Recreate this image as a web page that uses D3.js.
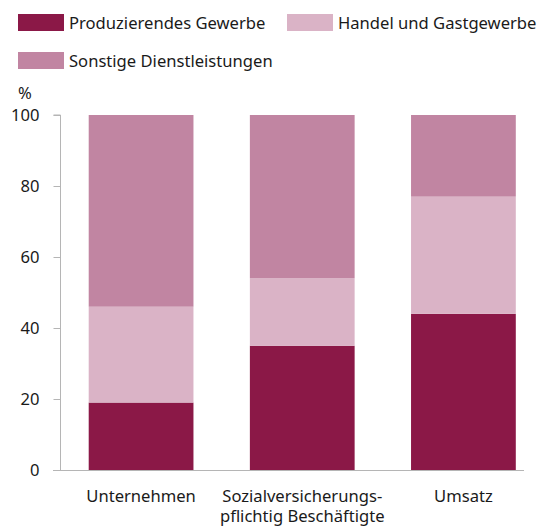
<!DOCTYPE html>
<html>
<head>
<meta charset="utf-8">
<script src="https://cdn.jsdelivr.net/npm/d3@7"></script>
<style>
  body { margin: 0; background: #fff; }
  text { font-family: "Noto Sans", "Open Sans", sans-serif; fill: #1a1a1a; }
</style>
</head>
<body>
<div class="chart"></div>
<script>
(function() {
  var categories = [["Unternehmen"], ["Sozialversicherungs-", "pflichtig Beschäftigte"], ["Umsatz"]];
  var seriesNames = ["Produzierendes Gewerbe", "Handel und Gastgewerbe", "Sonstige Dienstleistungen"];
  var produzierend = [19, 35, 44];
  var handel = [27, 19, 33];
  var sonstige = [54, 46, 23];
  var yTicks = [0, 20, 40, 60, 80, 100];
  var colors = ["#8b1847", "#dab3c6", "#c185a2"];

  var width = 542, height = 528, fs = "16.6px";
  var svg = d3.select(".chart").append("svg")
    .attr("width", width)
    .attr("height", height);

  var rows = categories.map(function(c, i) {
    return { key: i, label: c, a: produzierend[i], b: handel[i], c: sonstige[i] };
  });
  var stack = d3.stack().keys(["a", "b", "c"]);
  var series = stack(rows);

  var x = d3.scaleBand()
    .domain(rows.map(function(d) { return d.key; }))
    .range([60.5, 544])
    .paddingInner(0.35)
    .paddingOuter(0.175);
  var y = d3.scaleLinear().domain([0, 100]).range([470, 115]);

  // bars
  svg.append("g").selectAll("g")
    .data(series)
    .enter().append("g")
      .attr("fill", function(d, i) { return colors[i]; })
    .selectAll("rect")
      .data(function(d) { return d; })
    .enter().append("rect")
      .attr("x", function(d) { return x(d.data.key); })
      .attr("width", x.bandwidth())
      .attr("y", function(d) { return y(d[1]); })
      .attr("height", function(d) { return y(d[0]) - y(d[1]); });

  // y axis
  var yAxis = svg.append("g")
    .attr("transform", "translate(60.5,0)")
    .call(d3.axisLeft(y).tickValues(yTicks).tickSize(7).tickPadding(14));
  yAxis.select(".domain").attr("stroke", "#b5b5b5").attr("d", "M-7," + y(100) + "H0V" + y(0));
  yAxis.selectAll(".tick line").attr("stroke", "#b5b5b5");
  yAxis.selectAll(".tick text")
    .style("font-size", fs)
    .style("font-family", "'Noto Sans', sans-serif")
    .attr("fill", "#1a1a1a");

  // baseline
  svg.append("line")
    .attr("x1", 53).attr("x2", 524)
    .attr("y1", y(0) + 0.5).attr("y2", y(0) + 0.5)
    .attr("stroke", "#b5b5b5");

  svg.append("text")
    .attr("x", 25).attr("y", 99)
    .attr("text-anchor", "middle")
    .style("font-size", fs)
    .text("%");

  // category labels
  var cat = svg.append("g").selectAll("text")
    .data(rows)
    .enter().append("text")
      .attr("x", function(d) { return x(d.key) + x.bandwidth() / 2; })
      .attr("y", 502)
      .attr("text-anchor", "middle")
      .style("font-size", fs);
  cat.selectAll("tspan")
    .data(function(d) { return d.label; })
    .enter().append("tspan")
      .attr("x", function() { return d3.select(this.parentNode).attr("x"); })
      .attr("dy", function(d, i) { return i === 0 ? 0 : 20; })
      .text(function(d) { return d; });

  // legend
  var legendPos = [[18, 14], [287, 14], [18, 52]];
  var lg = svg.append("g").selectAll("g")
    .data(seriesNames)
    .enter().append("g")
      .attr("transform", function(d, i) { return "translate(" + legendPos[i][0] + "," + legendPos[i][1] + ")"; });
  lg.append("rect")
    .attr("width", 46).attr("height", 17)
    .attr("fill", function(d, i) { return colors[i]; });
  lg.append("text")
    .attr("x", 51).attr("y", 15)
    .style("font-size", fs)
    .text(function(d) { return d; });
})();
</script>
</body>
</html>
